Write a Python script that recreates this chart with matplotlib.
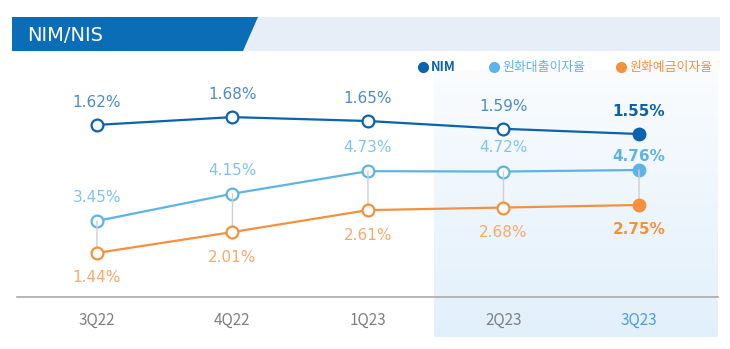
import numpy as np
import matplotlib.pyplot as plt
from matplotlib.patches import Polygon, ConnectionPatch
from matplotlib.colors import LinearSegmentedColormap

plt.rcParams['font.family'] = ['Noto Sans CJK KR', 'DejaVu Sans']

# data
quarters = ['3Q22', '4Q22', '1Q23', '2Q23', '3Q23']
nim = [1.62, 1.68, 1.65, 1.59, 1.55]
loan_rate = [3.45, 4.15, 4.73, 4.72, 4.76]
deposit_rate = [1.44, 2.01, 2.61, 2.68, 2.75]

c_nim = '#0a62b0'
c_loan = '#5db3e8'
c_dep = '#f5913d'
c_nim_lbl = '#4d8bcb'
c_loan_lbl = '#80c4ee'
c_dep_lbl = '#f5aa6c'

W, H = 730, 349
fig = plt.figure(figsize=(W / 100, H / 100), dpi=100)

# background layer in pixel coords
bg = fig.add_axes([0, 0, 1, 1], zorder=0)
bg.axis('off')
bg.add_patch(Polygon([[12, 17], [720, 17], [720, 51], [12, 51]], closed=True,
                     facecolor='#e8eef8', edgecolor='none'))
bg.add_patch(Polygon([[12, 17], [258, 17], [243, 51], [12, 51]], closed=True,
                     facecolor='#0b6db5', edgecolor='none'))
bg.text(27, 35.5, 'NIM/NIS', color='white', fontsize=14, va='center', ha='left',
        family=['DejaVu Sans'])
grad = np.linspace(0, 1, 100).reshape(-1, 1)
cmap = LinearSegmentedColormap.from_list('g', ['#fafcfe', '#e2f0fb'])
bg.imshow(grad, extent=[434, 718, 337, 70], cmap=cmap, aspect='auto', zorder=0)
bg.set_xlim(0, W)
bg.set_ylim(H, 0)

# legend
leg = [('NIM', c_nim, 423, 'bold'), ('원화대출이자율', c_loan, 494, 'normal'),
       ('원화예금이자율', c_dep, 621, 'normal')]
for name, col, x0, fw in leg:
    bg.plot(x0, 67, 'o', color=col, markersize=7)
    bg.text(x0 + 8, 67, name, color=col, fontsize=9.3, va='center', ha='left',
            fontweight=fw)

# data axes
x = np.arange(len(quarters))
ax = fig.add_axes([17 / W, (H - 297) / H, 701 / W, 235 / H], zorder=2)
ax_nim = ax.twinx()
ax_dep = ax.twinx()
for a in (ax, ax_nim, ax_dep):
    a.patch.set_visible(False)
    for s in a.spines.values():
        s.set_visible(False)
    a.set_yticks([])
    a.set_xlim(-0.59, 4.583)
ax.spines['bottom'].set_visible(True)
ax.spines['bottom'].set_color('#aaaaaa')
ax.spines['bottom'].set_linewidth(1.2)

ax_nim.set_ylim(0.296, 2.104)
ax.set_ylim(1.495, 7.536)
ax_dep.set_ylim(0.236, 6.656)

ax.set_xticks(x)
ax.set_xticklabels(quarters, fontsize=11, color='#808080')
ax.get_xticklabels()[-1].set_color('#4a9fdc')
ax.tick_params(axis='x', length=0, pad=11)

# connectors between loan and deposit points
for i in x:
    con = ConnectionPatch(xyA=(i, loan_rate[i]), coordsA=ax.transData,
                          xyB=(i, deposit_rate[i]), coordsB=ax_dep.transData,
                          color='#cfcfcf', lw=1, zorder=1)
    ax_dep.add_artist(con)

series = [(ax_nim, nim, c_nim, c_nim_lbl, 16),
          (ax, loan_rate, c_loan, c_loan_lbl, 17),
          (ax_dep, deposit_rate, c_dep, c_dep_lbl, -18)]
for a, vals, col, lcol, off in series:
    a.plot(x, vals, color=col, lw=1.6, zorder=3)
    a.plot(x[:-1], vals[:-1], 'o', markersize=8.5, markerfacecolor='white',
           markeredgecolor=col, markeredgewidth=1.6, zorder=4)
    a.plot(x[-1:], vals[-1:], 'o', markersize=9, color=col, zorder=4)
    for i, v in enumerate(vals):
        last = i == len(vals) - 1
        o = off
        if last and a is ax:
            o = 10
        a.annotate(f'{v:.2f}%', (i, v), xytext=(0, o), textcoords='offset points',
                   ha='center', va='center', fontsize=11,
                   color=col if last else lcol,
                   fontweight='bold' if last else 'normal',
                   family=['DejaVu Sans'])

fig.savefig('out.png', dpi=100)
